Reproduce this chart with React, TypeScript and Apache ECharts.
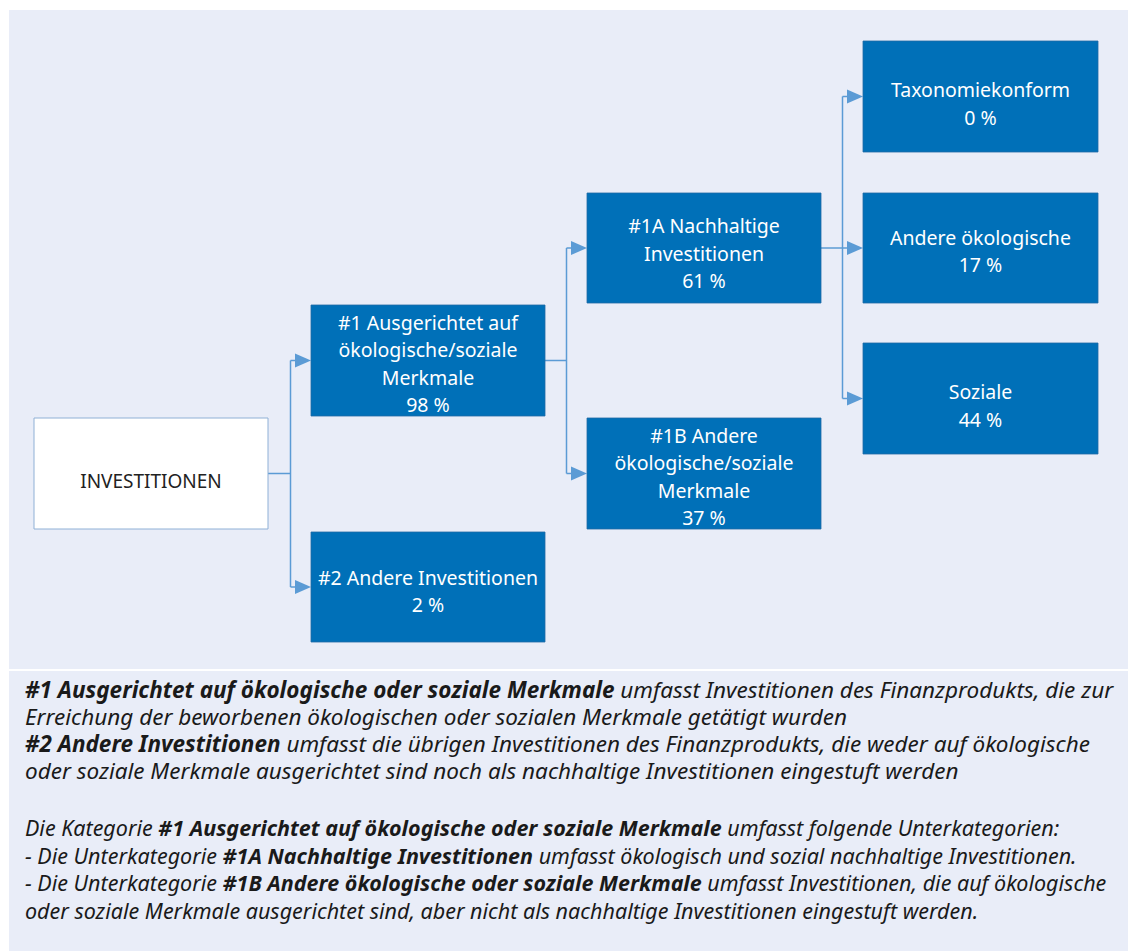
import React, { useEffect, useRef } from "react";
import * as echarts from "echarts";

// ---- data ----
const nodeNames = [
  "INVESTITIONEN",
  "#1 Ausgerichtet auf\nökologische/soziale\nMerkmale",
  "#2 Andere Investitionen",
  "#1A Nachhaltige\nInvestitionen",
  "#1B Andere\nökologische/soziale\nMerkmale",
  "Taxonomiekonform",
  "Andere ökologische",
  "Soziale",
];
const nodeValues: (number | null)[] = [null, 98, 2, 61, 37, 0, 17, 44];
const links: [number, number][] = [
  [0, 1],
  [0, 2],
  [1, 3],
  [1, 4],
  [3, 5],
  [3, 6],
  [3, 7],
];

// footnote lines: segments of [style, text]
const noteLines: [string, string][][] = [
  [["b", "#1 Ausgerichtet auf ökologische oder soziale Merkmale"], ["i", " umfasst Investitionen des Finanzprodukts, die zur"]],
  [["i", "Erreichung der beworbenen ökologischen oder sozialen Merkmale getätigt wurden"]],
  [["b", "#2 Andere Investitionen"], ["i", " umfasst die übrigen Investitionen des Finanzprodukts, die weder auf ökologische"]],
  [["i", "oder soziale Merkmale ausgerichtet sind noch als nachhaltige Investitionen eingestuft werden"]],
  [["i", "Die Kategorie "], ["b", "#1 Ausgerichtet auf ökologische oder soziale Merkmale"], ["i", " umfasst folgende Unterkategorien:"]],
  [["i", "- Die Unterkategorie "], ["b", "#1A Nachhaltige Investitionen"], ["i", " umfasst ökologisch und sozial nachhaltige Investitionen."]],
  [["i", "- Die Unterkategorie "], ["b", "#1B Andere ökologische oder soziale Merkmale"], ["i", " umfasst Investitionen, die auf ökologische"]],
  [["i", "oder soziale Merkmale ausgerichtet sind, aber nicht als nachhaltige Investitionen eingestuft werden."]],
];

// ---- layout (positions / sizes) ----
const boxLayout = [
  { x: 34, y: 418, w: 234, h: 111 },
  { x: 311, y: 305, w: 234, h: 111 },
  { x: 311, y: 532, w: 234, h: 110 },
  { x: 587, y: 193, w: 234, h: 110 },
  { x: 587, y: 418, w: 234, h: 111 },
  { x: 863, y: 41, w: 235, h: 111 },
  { x: 863, y: 193, w: 235, h: 110 },
  { x: 863, y: 343, w: 235, h: 111 },
];
const textOffset = [7, 3, 4, 5, 3, 7, 3, 7];
const noteY = [689, 716, 743, 770, 827, 855, 882, 910];
const noteSize = [22.5, 22.5, 22.5, 22.5, 21.5, 21.5, 21.5, 21.5];

const BG = "#E9EDF8";
const BLUE = "#0070B8";
const LINE = "#5B9BD5";

export default function App() {
  const ref = useRef<HTMLDivElement>(null);
  useEffect(() => {
    if (!ref.current) return;
    const chart = echarts.init(ref.current, null, { renderer: "svg" });
    const els: any[] = [];
    els.push({ type: "rect", shape: { x: 9, y: 10, width: 1119, height: 659 }, style: { fill: BG } });
    els.push({ type: "rect", shape: { x: 9, y: 671, width: 1119, height: 280 }, style: { fill: BG } });

    // connectors
    const groups: Record<number, number[]> = {};
    links.forEach(([s, t]) => {
      (groups[s] = groups[s] || []).push(t);
    });
    Object.keys(groups).forEach((k) => {
      const s = Number(k);
      const sb = boxLayout[s];
      const sx = sb.x + sb.w;
      const sy = sb.y + sb.h / 2;
      const targets = groups[s];
      const tl = boxLayout[targets[0]].x;
      const ex = Math.round(sx + (tl - sx) / 2) + 0.5;
      els.push({ type: "line", shape: { x1: sx, y1: sy, x2: ex, y2: sy }, style: { stroke: LINE, lineWidth: 1.5 } });
      const ys = targets.map((t) => boxLayout[t].y + boxLayout[t].h / 2);
      const ymin = Math.min(sy, ...ys);
      const ymax = Math.max(sy, ...ys);
      els.push({ type: "line", shape: { x1: ex, y1: ymin, x2: ex, y2: ymax }, style: { stroke: LINE, lineWidth: 1.5 } });
      targets.forEach((t, i) => {
        const tx = boxLayout[t].x;
        const ty = ys[i];
        els.push({ type: "line", shape: { x1: ex, y1: ty, x2: tx - 15, y2: ty }, style: { stroke: LINE, lineWidth: 1.5 } });
        els.push({
          type: "polygon",
          shape: { points: [[tx - 16, ty - 7], [tx, ty], [tx - 16, ty + 7]] },
          style: { fill: LINE },
        });
      });
    });

    // boxes
    boxLayout.forEach((b, i) => {
      const isRoot = nodeValues[i] === null;
      els.push({
        type: "rect",
        shape: { x: b.x, y: b.y, width: b.w, height: b.h },
        style: isRoot ? { fill: "#FFFFFF", stroke: "#8FB0D6", lineWidth: 1 } : { fill: BLUE, stroke: "#1F6AA5", lineWidth: 0.8 },
      });
      const label = isRoot ? nodeNames[i] : nodeNames[i] + "\n" + nodeValues[i] + " %";
      els.push({
        type: "text",
        x: b.x + b.w / 2,
        y: b.y + b.h / 2 + textOffset[i],
        style: {
          text: label,
          fill: isRoot ? "#222222" : "#FFFFFF",
          fontFamily: "Noto Sans",
          fontSize: isRoot ? 19 : 19.5,
          align: "center",
          verticalAlign: "middle",
          lineHeight: 27.5,
        },
      });
    });

    // footnotes
    noteLines.forEach((segs, i) => {
      const text = segs.map(([s, t]) => `{${s}|${t}}`).join("");
      const fs = noteSize[i];
      els.push({
        type: "text",
        x: 25,
        y: noteY[i],
        style: {
          text,
          align: "left",
          verticalAlign: "middle",
          rich: {
            b: { fontFamily: "Noto Sans", fontSize: fs, lineHeight: 25, fontStyle: "italic", fontWeight: "bold", fill: "#1A1A1A" },
            i: { fontFamily: "Noto Sans", fontSize: fs, lineHeight: 25, fontStyle: "italic", fill: "#1A1A1A" },
          },
        },
      });
    });

    chart.setOption({ animation: false, graphic: { elements: els } });
    return () => chart.dispose();
  }, []);
  return <div ref={ref} style={{ position: "absolute", left: 0, top: 0, width: 1132, height: 951 }} />;
}
